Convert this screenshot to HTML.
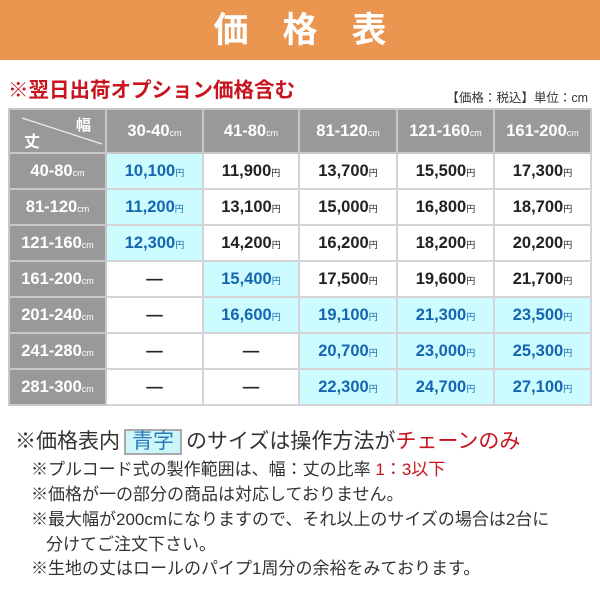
<!DOCTYPE html>
<html><head><meta charset="utf-8"><style>
*{margin:0;padding:0;box-sizing:border-box}
body{width:600px;height:600px;background:#fff;position:relative;overflow:hidden;font-family:"Liberation Sans","Noto Sans CJK JP",sans-serif}
.hd{position:absolute;left:0;top:0;width:600px;height:60px;background:#eb9650;color:#fff;font-size:35px;font-weight:bold;text-align:center;line-height:62px;letter-spacing:34px;padding-left:34px}
.red{position:absolute;left:8px;top:73px;font-size:20.5px;font-weight:bold;color:#c8141e;white-space:nowrap}
.unit{position:absolute;right:12px;top:87px;font-size:12.5px;color:#333}
table{position:absolute;left:8px;top:108px;border-collapse:collapse;table-layout:fixed}
td{border:2px solid #d4d4d4;text-align:center;font-weight:bold;font-size:16.5px;color:#222;height:36px;padding:0}
td.g{background:#999;color:#fff;border-color:#c8c8c8}
tr.h td{height:44px}
td.b{background:#ccfcff;color:#1565b0}
small{font-size:9px;font-weight:normal}
.n{position:absolute;white-space:nowrap;color:#333}
</style></head><body>
<div class="hd">価格表</div>
<div class="red">※翌日出荷オプション価格含む</div>
<div class="unit">【価格：税込】単位：cm</div>
<table>
<colgroup><col style="width:97px"><col style="width:97px"><col style="width:96px"><col style="width:98px"><col style="width:97px"><col style="width:97px"></colgroup>
<tr class="h"><td class="g" style="position:relative"><svg width="95" height="42" style="position:absolute;left:0;top:0"><line x1="12" y1="8" x2="92" y2="34" stroke="#eee" stroke-width="1.2"/></svg><span style="position:absolute;left:14px;top:18px;font-size:16px">丈</span><span style="position:absolute;left:66px;top:4px;font-size:15px">幅</span></td><td class="g">30-40<small>cm</small></td><td class="g">41-80<small>cm</small></td><td class="g">81-120<small>cm</small></td><td class="g">121-160<small>cm</small></td><td class="g">161-200<small>cm</small></td></tr>
<tr><td class="g">40-80<small>cm</small></td><td class="b">10,100<small>円</small></td><td>11,900<small>円</small></td><td>13,700<small>円</small></td><td>15,500<small>円</small></td><td>17,300<small>円</small></td></tr>
<tr><td class="g">81-120<small>cm</small></td><td class="b">11,200<small>円</small></td><td>13,100<small>円</small></td><td>15,000<small>円</small></td><td>16,800<small>円</small></td><td>18,700<small>円</small></td></tr>
<tr><td class="g">121-160<small>cm</small></td><td class="b">12,300<small>円</small></td><td>14,200<small>円</small></td><td>16,200<small>円</small></td><td>18,200<small>円</small></td><td>20,200<small>円</small></td></tr>
<tr><td class="g">161-200<small>cm</small></td><td>—</td><td class="b">15,400<small>円</small></td><td>17,500<small>円</small></td><td>19,600<small>円</small></td><td>21,700<small>円</small></td></tr>
<tr><td class="g">201-240<small>cm</small></td><td>—</td><td class="b">16,600<small>円</small></td><td class="b">19,100<small>円</small></td><td class="b">21,300<small>円</small></td><td class="b">23,500<small>円</small></td></tr>
<tr><td class="g">241-280<small>cm</small></td><td>—</td><td>—</td><td class="b">20,700<small>円</small></td><td class="b">23,000<small>円</small></td><td class="b">25,300<small>円</small></td></tr>
<tr><td class="g">281-300<small>cm</small></td><td>—</td><td>—</td><td class="b">22,300<small>円</small></td><td class="b">24,700<small>円</small></td><td class="b">27,100<small>円</small></td></tr>
</table>
<div class="n" style="left:15px;top:425px;font-size:21px">※価格表内<span style="display:inline-block;background:#ccf6fa;border:2px solid #aaa;color:#2a7ab8;padding:0 6px;margin:0 4px;line-height:22px">青字</span>のサイズは操作方法が<span style="color:#c8141e">チェーンのみ</span></div>
<div class="n" style="left:31px;top:455px;font-size:17px">※プルコード式の製作範囲は、幅：丈の比率 <span style="color:#c8141e">1：3以下</span></div>
<div class="n" style="left:31px;top:480px;font-size:17px">※価格が一の部分の商品は対応しておりません。</div>
<div class="n" style="left:31px;top:505px;font-size:17px">※最大幅が200cmになりますので、それ以上のサイズの場合は2台に</div>
<div class="n" style="left:46px;top:530px;font-size:17px">分けてご注文下さい。</div>
<div class="n" style="left:31px;top:554px;font-size:17px">※生地の丈はロールのパイプ1周分の余裕をみております。</div>
</body></html>
